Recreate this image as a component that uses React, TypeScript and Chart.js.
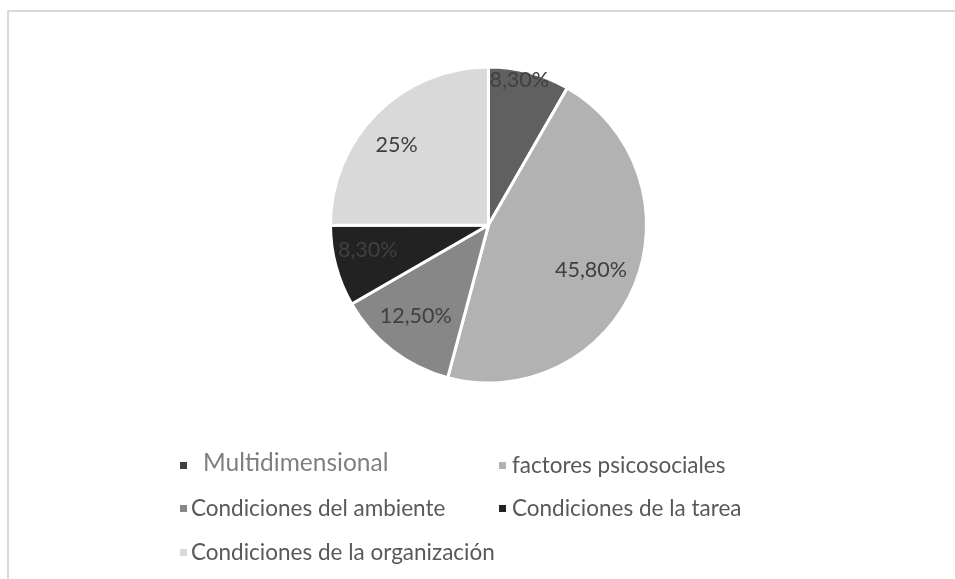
import React, { useEffect, useRef } from "react";
import { Chart, registerables } from "chart.js";

Chart.register(...registerables);

const categories = [
  "Multidimensional",
  "factores psicosociales",
  "Condiciones del ambiente",
  "Condiciones de la tarea",
  "Condiciones de la organización",
];
const values = [8.3, 45.8, 12.5, 8.3, 25];
const valueLabels = ["8,30%", "45,80%", "12,50%", "8,30%", "25%"];
const colors = ["#606060", "#b2b2b2", "#878787", "#222222", "#d9d9d9"];

const FONT = "Lato, 'Open Sans', sans-serif";
const W = 955;
const H = 579;

const framePlugin = {
  id: "frame",
  beforeDraw(chart: any) {
    const { ctx, width, height } = chart;
    ctx.save();
    ctx.fillStyle = "#d9d9d9";
    ctx.fillRect(7, 10, width - 7, 2);
    ctx.fillRect(7, 10, 2, height - 10);
    ctx.restore();
  },
};

const labelPlugin = {
  id: "sliceLabels",
  afterDatasetsDraw(chart: any, _args: any, opts: any) {
    const ctx = chart.ctx;
    const meta = chart.getDatasetMeta(0);
    meta.data.forEach((arc: any, i: number) => {
      const p = arc.getProps(["x", "y", "startAngle", "endAngle", "outerRadius"], true);
      const mid = (p.startAngle + p.endAngle) / 2 + ((opts.angleShift[i] || 0) * Math.PI) / 180;
      const r = p.outerRadius * opts.radii[i];
      ctx.save();
      ctx.font = opts.font;
      ctx.fillStyle = opts.color;
      ctx.textAlign = "center";
      ctx.textBaseline = "middle";
      ctx.fillText(valueLabels[i], p.x + Math.cos(mid) * r, p.y + Math.sin(mid) * r);
      ctx.restore();
    });
  },
};

const legendPos = [
  { left: 180, top: 449, textOffset: 23, color: "#7f7f7f", size: 24.5 },
  { left: 499, top: 452, textOffset: 13, color: "#595959", size: 22.5 },
  { left: 180, top: 495, textOffset: 11, color: "#595959", size: 22.5 },
  { left: 499, top: 495, textOffset: 13, color: "#595959", size: 22.5 },
  { left: 180, top: 539, textOffset: 11, color: "#595959", size: 22.5 },
];

export default function App() {
  const ref = useRef<HTMLCanvasElement | null>(null);

  useEffect(() => {
    if (!ref.current) return;
    const chart = new Chart(ref.current, {
      type: "pie",
      data: {
        labels: categories,
        datasets: [
          {
            data: values,
            backgroundColor: colors,
            borderColor: "#ffffff",
            borderWidth: 3,
            radius: 158,
          } as any,
        ],
      },
      options: {
        animation: false,
        responsive: false,
        layout: { padding: { left: 22, right: 0, top: 0, bottom: 129 } },
        plugins: {
          legend: { display: false },
          tooltip: { enabled: false },
          sliceLabels: {
            radii: [0.94, 0.71, 0.74, 0.78, 0.77],
            angleShift: [-3, 1.5, 1, 3.5, -4],
            font: `21.5px ${FONT}`,
            color: "#404040",
          },
        } as any,
      },
      plugins: [framePlugin, labelPlugin],
    });
    return () => chart.destroy();
  }, []);

  return (
    <div
      style={{
        position: "fixed",
        left: 0,
        top: 0,
        width: W,
        height: H,
        overflow: "hidden",
        background: "#ffffff",
      }}
    >
      <canvas ref={ref} width={W} height={H} style={{ display: "block" }} />
      {categories.map((c, i) => (
        <div
          key={c}
          style={{
            position: "absolute",
            left: legendPos[i].left,
            top: legendPos[i].top,
            height: 24,
            display: "flex",
            alignItems: "center",
            fontFamily: FONT,
            fontSize: legendPos[i].size,
            color: legendPos[i].color,
            whiteSpace: "nowrap",
          }}
        >
          <span
            style={{
              display: "inline-block",
              width: 7,
              height: 7,
              background: i === 0 ? "#404040" : colors[i],
              marginRight: legendPos[i].textOffset - 7,
              marginTop: i === 0 ? 8 : 2,
              flexShrink: 0,
            }}
          />
          <span>{c}</span>
        </div>
      ))}
    </div>
  );
}
